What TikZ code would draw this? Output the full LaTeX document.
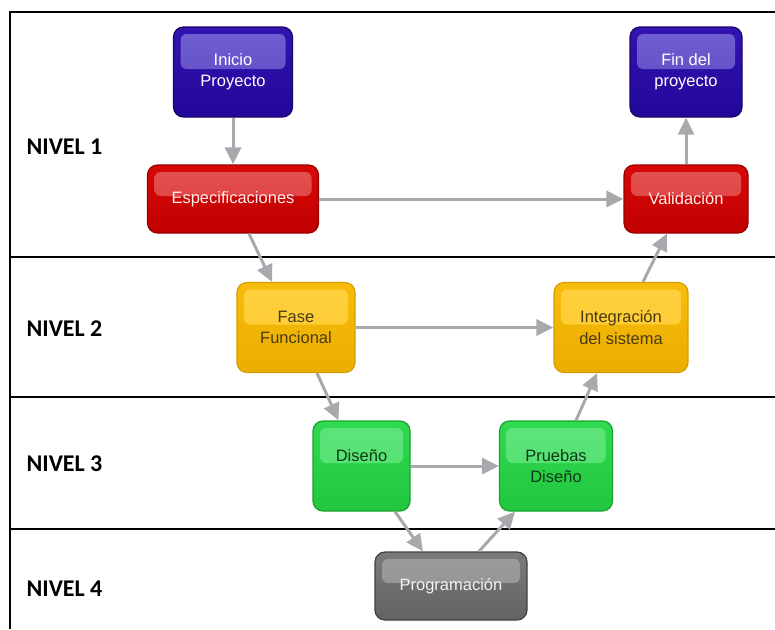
\documentclass[tikz,border=0pt]{standalone}
\usepackage{fontspec}
\setsansfont{Liberation Sans}
\newfontfamily\nivelfont{Carlito}
\usepackage{xcolor}
\usepackage{tikz}
\usetikzlibrary{arrows.meta, calc}

% box colours: body, darker bottom, border, gloss, text
\definecolor{azul}{HTML}{3414B0}
\definecolor{azulsombra}{HTML}{22079A}
\definecolor{azulborde}{HTML}{180468}
\definecolor{azulbrillo}{HTML}{7060D0}
\definecolor{azultexto}{HTML}{FFFFFF}
\definecolor{rojo}{HTML}{D80808}
\definecolor{rojosombra}{HTML}{C00000}
\definecolor{rojoborde}{HTML}{9A0000}
\definecolor{rojobrillo}{HTML}{E25252}
\definecolor{rojotexto}{HTML}{FFF0F0}
\definecolor{amarillo}{HTML}{F7BC0C}
\definecolor{amarillosombra}{HTML}{EBAE00}
\definecolor{amarilloborde}{HTML}{D69E00}
\definecolor{amarillobrillo}{HTML}{FFD03E}
\definecolor{amarillotexto}{HTML}{4A3A10}
\definecolor{verde}{HTML}{30DA50}
\definecolor{verdesombra}{HTML}{22C640}
\definecolor{verdeborde}{HTML}{17A32E}
\definecolor{verdebrillo}{HTML}{5EE47A}
\definecolor{verdetexto}{HTML}{12381A}
\definecolor{gris}{HTML}{7A7A7A}
\definecolor{grissombra}{HTML}{636363}
\definecolor{grisborde}{HTML}{404040}
\definecolor{grisbrillo}{HTML}{9C9C9C}
\definecolor{gristexto}{HTML}{F2F2F2}
\definecolor{flechagris}{HTML}{A8A9AD}

\tikzset{
  etapa/.style={rounded corners=10pt, draw=#1borde, line width=1.2pt, inner sep=0pt,
    top color=#1, bottom color=#1sombra, text=#1texto, align=center,
    font=\sffamily\fontsize{16.5}{21}\selectfont,
    path picture={\shade[top color=#1brillo, bottom color=#1brillo!65!#1, rounded corners=6pt]
      ($(path picture bounding box.north west)+(7pt,-7pt)$) rectangle
      ($(path picture bounding box.east)+(-7pt,3pt)$);}},
  flecha/.style={draw=flechagris, line width=3pt, -{Triangle[length=17pt,width=16pt]}},
  nivel/.style={anchor=west, font=\nivelfont\bfseries\fontsize{24}{27}\selectfont},
}

\begin{document}
\begin{tikzpicture}[x=1pt, y=-1pt]
  \useasboundingbox (0,0) rectangle (775,629);
  % frame and lanes
  \draw[line width=1.8pt] (10,629) -- (10,12) -- (776,12);
  \draw[line width=1.8pt] (10,257) -- (776,257);
  \draw[line width=1.8pt] (10,397) -- (776,397);
  \draw[line width=1.8pt] (10,529) -- (776,529);
  \node[nivel] (n1) at (23,147) {NIVEL 1};
  \node[nivel] (n2) at (23,329) {NIVEL 2};
  \node[nivel] (n3) at (23,464) {NIVEL 3};
  \node[nivel] (n4) at (23,589) {NIVEL 4};
  % ---------------- level 1 ----------------
  \node[etapa=azul, minimum width=119pt, minimum height=90pt] (inicio) at (233,72) {Inicio\\Proyecto};
  \node[etapa=azul, minimum width=112pt, minimum height=90pt] (fin) at (686,72) {Fin del\\proyecto};
  \node[etapa=rojo, minimum width=171pt, minimum height=68pt] (espec) at (233,199) {Especificaciones};
  \node[etapa=rojo, minimum width=124pt, minimum height=68pt] (valid) at (686,199) {Validación};
  % ---------------- level 2 ----------------
  \node[etapa=amarillo, minimum width=118pt, minimum height=90pt] (fase) at (296,327.5) {Fase\\Funcional};
  \node[etapa=amarillo, minimum width=134pt, minimum height=90pt] (integ) at (621,327.5) {Integración\\del sistema};
  % ---------------- level 3 ----------------
  \node[etapa=verde, minimum width=97pt, minimum height=90pt] (diseno) at (361.5,466) {Diseño\\~};
  \node[etapa=verde, minimum width=113pt, minimum height=90pt] (pruebas) at (556,466) {Pruebas\\Diseño};
  % ---------------- level 4 ----------------
  \node[etapa=gris, minimum width=152pt, minimum height=68pt] (prog) at (451,586) {Programación};
  % ---------------- arrows ----------------
  \draw[flecha] (inicio) -- (espec);
  \draw[flecha] (espec) -- (valid);
  \draw[flecha] ([xshift=16pt]espec.south) -- ([xshift=-24pt]fase.north);
  \draw[flecha] (fase) -- (integ);
  \draw[flecha] ([xshift=21pt]fase.south) -- ([xshift=-23pt]diseno.north);
  \draw[flecha] (diseno) -- (pruebas);
  \draw[flecha] ([xshift=33.5pt]diseno.south) -- ([xshift=-28pt]prog.north);
  \draw[flecha] ([xshift=28pt]prog.north) -- ([xshift=-41pt]pruebas.south);
  \draw[flecha] ([xshift=20pt]pruebas.north) -- ([xshift=-24pt]integ.south);
  \draw[flecha] ([xshift=22pt]integ.north) -- ([xshift=-19pt]valid.south);
  \draw[flecha] (valid) -- (fin);
\end{tikzpicture}
\end{document}
